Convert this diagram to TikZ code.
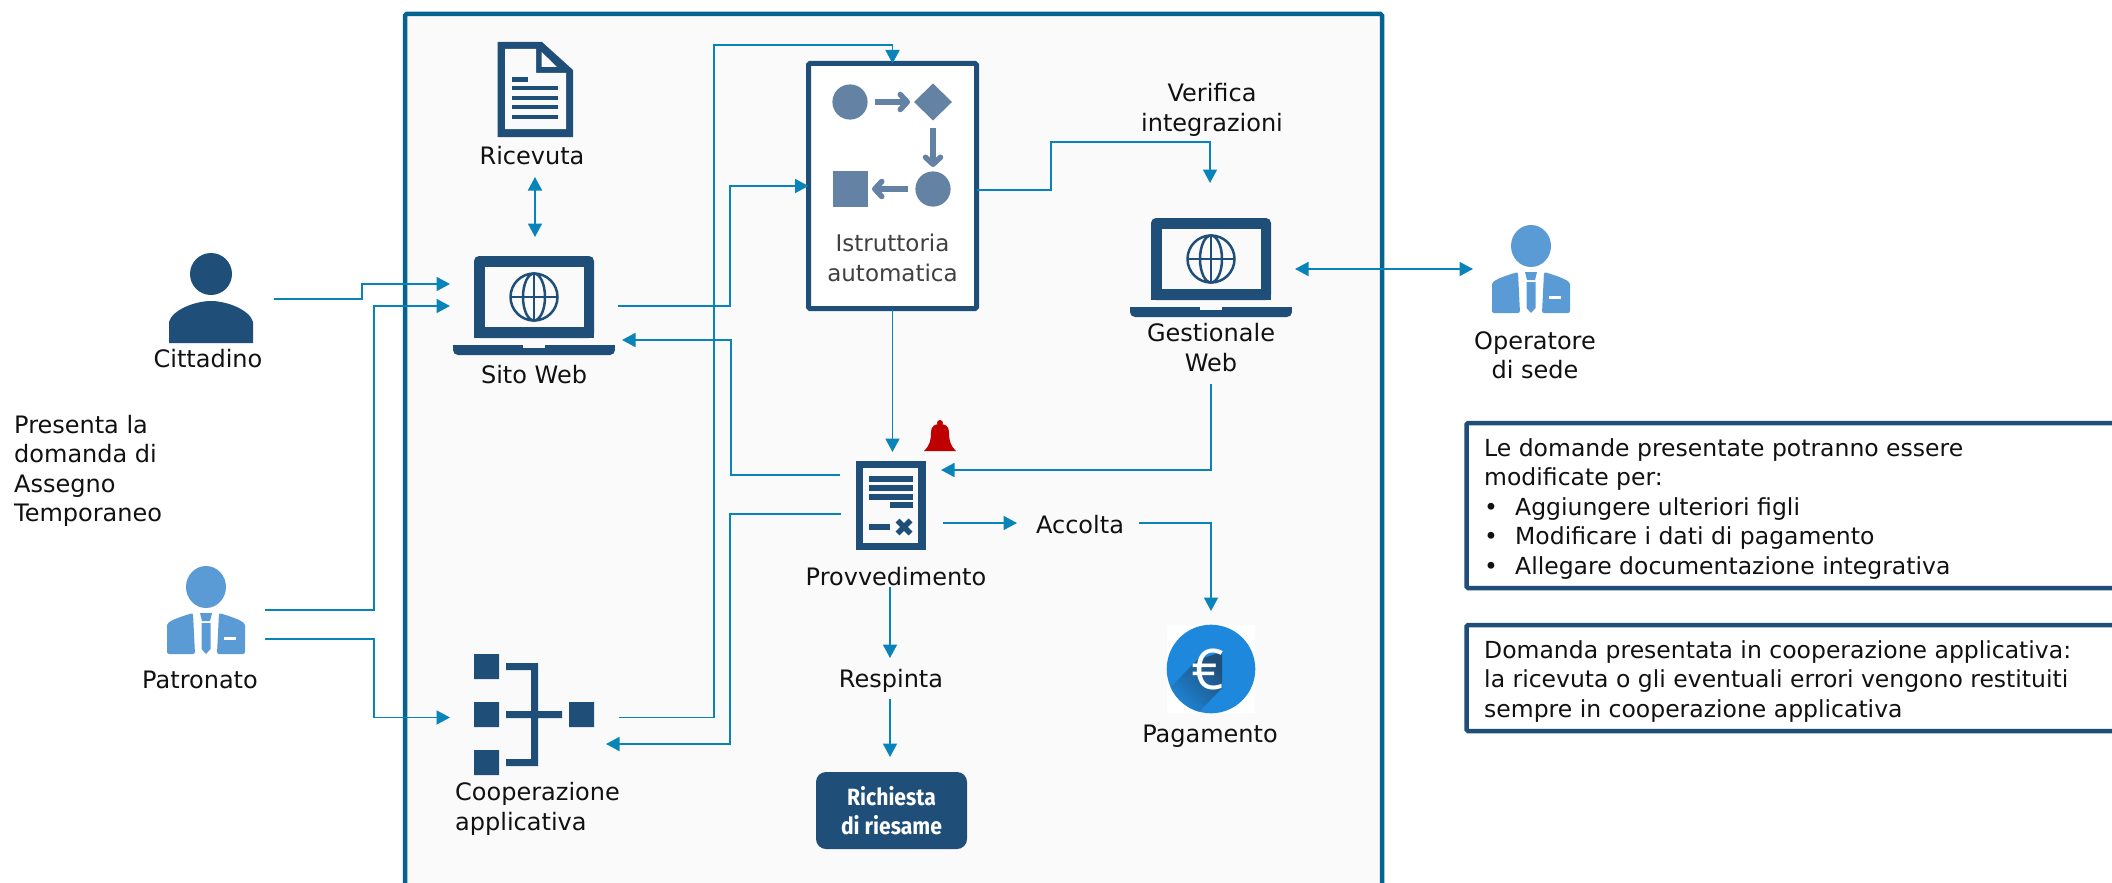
\documentclass[tikz,border=0pt]{standalone}
\usepackage{fontspec}
\usepackage{graphicx}
\setmainfont{DejaVu Sans}
\newfontfamily\richfont{Fira Sans}
\newfontfamily\eurofont{Open Sans}
\usetikzlibrary{arrows.meta,calc}
\definecolor{bgc}{HTML}{FAFAFA}
\definecolor{navy}{HTML}{1F4E79}
\definecolor{framec}{HTML}{04648F}
\definecolor{arrowc}{HTML}{0984B9}
\definecolor{suitc}{HTML}{5B9BD5}
\definecolor{flowc}{HTML}{6482A4}
\definecolor{txt}{HTML}{111111}
\definecolor{eurob}{HTML}{1E88DC}
\tikzset{
  conn/.style={draw=arrowc,line width=1.8pt},
  tip/.style={conn,-{Triangle[length=13.5pt,width=14pt]}},
  dbl/.style={conn,{Triangle[length=13.5pt,width=14pt]}-{Triangle[length=13.5pt,width=14pt]}},
  lbl/.style={font=\fontsize{24}{29.5}\selectfont,text=txt,inner sep=0pt,align=center},
  lblleft/.style={lbl,align=left},
  notetxt/.style={font=\fontsize{23.5}{29.5}\selectfont,text=txt,inner sep=0pt,align=left},
  notebox/.style={draw=navy,line width=4.5pt,fill=white,rounded corners=1.5pt},
  flowline/.style={draw=flowc,line width=5.5pt,-{Straight Barb[length=7pt,width=15pt,round]}},
  laptopicon/.pic={
    \fill[navy,rounded corners=5pt] (-60,41) -- (-60,-41) -- (60,-41) -- (60,41) -- cycle;
    \fill[navy] (-60,30) rectangle (60,41);
    \fill[bgc] (-49,-30) rectangle (50,30);
    \draw[navy,line width=2.5pt] (0,0) circle (23.5);
    \draw[navy,line width=2.5pt] (0,0) ellipse (11 and 23.5);
    \draw[navy,line width=2.5pt] (-23.5,0) -- (23.5,0) (0,-23.5) -- (0,23.5);
    \fill[navy,rounded corners=5pt] (-81,48) -- (81,48) -- (81,58) -- (-81,58) -- cycle;
    \fill[navy] (-81,48) rectangle (81,53);
    \fill[bgc] (-11,48) rectangle (11,51);
  },
  suiticon/.pic={
    \fill[suitc] (0,0) ellipse (20 and 21);
    \fill[suitc,rounded corners=2pt] (-39,67) -- (-39,40) .. controls (-39,35) and (-30,31) .. (-13,26) -- (-11,67) -- cycle;
    \fill[suitc,rounded corners=2pt] (39,67) -- (39,40) .. controls (39,35) and (30,31) .. (13,26) -- (11,67) -- cycle;
    \fill[suitc] (-6,26) -- (6,26) -- (4,34) -- (-4,34) -- cycle;
    \fill[suitc] (-4.5,36) -- (4.5,36) -- (4.5,62) -- (0,67) -- (-4.5,62) -- cycle;
    \fill[white] (18,50) rectangle (30,52.5);
  },
}
\begin{document}
\begin{tikzpicture}[x=1pt,y=-1pt]
\useasboundingbox (0,0) rectangle (2112,883);
\fill[white] (0,0) rectangle (2112,883);
% main frame
\draw[draw=framec,line width=4.5pt,fill=bgc,rounded corners=1.5pt] (405,14) rectangle (1382,900);

% ----- icons
% citizen
\fill[navy] (211,274) circle (21);
\fill[navy] (169,343) -- (169,322) .. controls (172,310) and (195,301) .. (211,301) .. controls (227,301) and (250,310) .. (253,322) -- (253,343) -- cycle;
\pic at (206,587) {suiticon};
\pic at (1531,246) {suiticon};
\pic at (534,297) {laptopicon};
\pic at (1211,259) {laptopicon};
% receipt
\fill[navy] (497.6,42) -- (542,42) -- (573,70) -- (573,137) -- (497.6,137) -- cycle;
\fill[bgc] (505,49) -- (536,49) -- (536,73) -- (566,73) -- (566,129) -- (505,129) -- cycle;
\fill[bgc] (541.6,52) -- (557,67) -- (541.6,67) -- cycle;
\fill[navy] (512,77) rectangle (528,81.5);
\foreach \yy in {88,98,107,117} \fill[navy] (512,\yy-2.3) rectangle (558,\yy+2.3);
% cooperation icon
\fill[navy] (474,654) rectangle (499,679) (474,702) rectangle (499,727) (474,750) rectangle (499,775) (569,702) rectangle (594,727);
\fill[navy] (506,663) rectangle (538,670) (531,663) rectangle (538,766) (506,759) rectangle (538,766) (506,711) rectangle (562,718);
% provvedimento icon
\fill[navy] (856,461) rectangle (926,550);
\fill[bgc] (863,468) rectangle (918,543);
\foreach \yy in {479,488,497} \fill[navy] (869,\yy-2.7) rectangle (912.5,\yy+2.7);
\fill[navy] (890,502.3) rectangle (912.5,507.7);
\fill[navy] (869,524.3) rectangle (890,529.7);
\draw[navy,line width=5.5pt] (897.5,520.5) -- (910.5,533.5) (910.5,520.5) -- (897.5,533.5);
% bell
\fill[red!75!black] (924,451) .. controls (930,445) and (931,440) .. (931,432) .. controls (931,426) and (935,424) .. (940,424) .. controls (945,424) and (949,426) .. (949,432) .. controls (949,440) and (950,445) .. (956,451) -- cycle;
\fill[red!75!black] (940,423) circle (3);
% euro
\fill[white] (1167,625) rectangle (1255,713);
\fill[eurob] (1211,669) circle (44.3);
\begin{scope}
  \clip (1211,669) circle (44.3);
  \shade[top color=navy,bottom color=eurob,shading angle=-45] (1222,652) -- (1197,660) -- (1168,690) -- (1195,716) -- (1222,688) -- cycle;
\end{scope}
\node[font=\eurofont\fontsize{56}{56}\selectfont,text=white,inner sep=0pt] (euro) at (1208,669) {€};

% ----- boxes
\node[draw=navy,line width=5pt,fill=white,rounded corners=1.5pt,minimum width=168pt,minimum height=245pt,outer sep=0pt,inner sep=0pt] (istr) at (892.5,186) {};
\fill[flowc] (850,102) circle (17.6);
\fill[flowc] (933,83.5) -- (952,102) -- (933,120.5) -- (914,102) -- cycle;
\fill[flowc] (933,189) circle (17.6);
\fill[flowc] (832.5,171) rectangle (868,207);
\draw[flowline] (875,102) -- (910,102);
\draw[flowline] (933,128) -- (933,167);
\draw[flowline] (908,189) -- (872,189);
\node[lbl,font=\fontsize{23}{29.5}\selectfont,text=black!75] (istrtxt) at (892.5,258) {Istruttoria\\automatica};

\node[fill=navy,rounded corners=10pt,minimum width=151pt,minimum height=77pt,inner sep=0pt,outer sep=0pt] (riesame) at (891.5,810.5) {};
\node[text=white,inner sep=0pt,align=center,font=\richfont\bfseries\fontsize{23.5}{29}\selectfont] (riesametxt) at (891.5,811) {\scalebox{0.9}[1]{Richiesta}\\\scalebox{0.9}[1]{di riesame}};

\node[notebox,minimum width=700pt,minimum height=165pt,inner sep=0pt] (note1) at (1816.6,505.5) {};
\node[notebox,minimum width=700pt,minimum height=106pt,inner sep=0pt] (note2) at (1816.6,678) {};
\node[notetxt,anchor=north west] (note1txt) at (1484,438) {Le domande presentate potranno essere\\modificate per:\\\makebox[31pt][l]{•}Aggiungere ulteriori figli\\\makebox[31pt][l]{•}Modificare i dati di pagamento\\\makebox[31pt][l]{•}Allegare documentazione integrativa};
\node[notetxt,anchor=north west] (note2txt) at (1484,640) {Domanda presentata in cooperazione applicativa:\\la ricevuta o gli eventuali errori vengono restituiti\\sempre in cooperazione applicativa};

% ----- labels
\node[lbl] (citt) at (208,359) {Cittadino};
\node[lbl] (patr) at (200,680) {Patronato};
\node[lblleft,anchor=north west] (presenta) at (14,415) {Presenta la\\domanda di\\Assegno\\Temporaneo};
\node[lbl] (ricev) at (532,156) {Ricevuta};
\node[lbl] (sito) at (534,375) {Sito Web};
\node[lblleft,anchor=north west] (coop) at (455,782.5) {Cooperazione\\applicativa};
\node[lbl] (verif) at (1212,110) {Verifica\\integrazioni};
\node[lbl] (gest) at (1211,347.5) {Gestionale\\Web};
\node[lbl] (oper) at (1535,355.5) {Operatore\\di sede};
\node[lbl] (prov) at (896,577) {Provvedimento};
\node[lbl] (accolta) at (1080,525) {Accolta};
\node[lbl] (respinta) at (891,681) {Respinta};
\node[lbl] (pagam) at (1210,736.5) {Pagamento};

% ----- connector ends
\coordinate (cittOut) at (274,299);
\coordinate (sitoIn1) at (450,284);
\coordinate (patrOut1) at (265,610);
\coordinate (sitoIn2) at (450,306);
\coordinate (patrOut2) at (265,639);
\coordinate (coopIn) at (450,717.5);
\coordinate (coopOut) at (619,717.5);
\coordinate (coopBack) at (606,744);
\coordinate (sitoOut) at (618,306);
\coordinate (sitoBack) at (622,340);
\coordinate (recDown) at (535,177);
\coordinate (sitoUp) at (535,237);
\coordinate (provOut1) at (840,475);
\coordinate (provOut2) at (841,514);
\coordinate (provTop) at (892.5,452);
\coordinate (provRight) at (941,470);
\coordinate (gestDown) at (1211,384);
\coordinate (provAcc) at (943,523);
\coordinate (accIn) at (1017,523);
\coordinate (accOut) at (1139,523);
\coordinate (payIn) at (1211,611);
\coordinate (gestIn) at (1210,183);
\coordinate (gestSide) at (1295,269);
\coordinate (operSide) at (1473,269);
\coordinate (provDown) at (890,587);
\coordinate (respIn) at (890,658);
\coordinate (respOut) at (890,699);
\coordinate (riesIn) at (890,757);

% ----- connectors
\draw[tip] (cittOut) -- (362,299) -- (362,284) -- (sitoIn1);
\draw[tip] (patrOut1) -- (374,610) -- (374,306) -- (sitoIn2);
\draw[tip] (patrOut2) -- (374,639) -- (374,717.5) -- (coopIn);
\draw[tip] (coopOut) -- (714,717.5) -- (714,45) -- (892.5,45) -- (istr.north);
\draw[tip] (sitoOut) -- (730,306) -- (730,186) -- (istr.west);
\draw[tip] (provOut1) -- (731,475) -- (731,340) -- (sitoBack);
\draw[tip] (provOut2) -- (730,514) -- (730,744) -- (coopBack);
\draw[dbl] (recDown) -- (sitoUp);
\draw[tip] (istr.south) -- (provTop);
\draw[tip] (istr.east |- 0,190) -- (1051,190) -- (1051,142) -- (1210,142) -- (gestIn);
\draw[tip] (gestDown) -- (1211,470) -- (provRight);
\draw[dbl] (gestSide) -- (operSide);
\draw[tip] (provAcc) -- (accIn);
\draw[tip] (accOut) -- (1211,523) -- (payIn);
\draw[tip] (provDown) -- (respIn);
\draw[tip] (respOut) -- (riesIn);
\end{tikzpicture}
\end{document}
